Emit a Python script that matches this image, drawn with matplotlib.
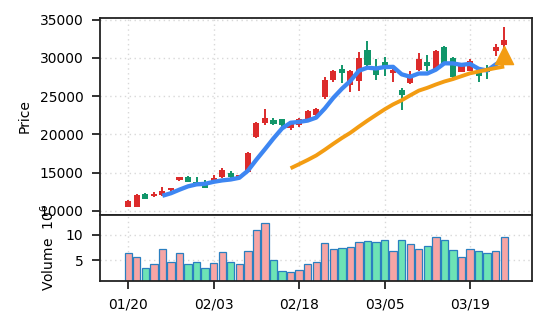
import numpy as np
import matplotlib
matplotlib.use('Agg')
import matplotlib.pyplot as plt

# daily bars, oldest first
opens = [10570, 10570, 12240, 11930, 12070, 12760, 14040, 14430, 13780, 13640,
         13910, 14380, 14960, 14380, 15120, 19700, 21450, 21840, 21970, 20880,
         21180, 21970, 22500, 24830, 27100, 28550, 26450, 27010, 31050, 28420,
         29430, 28030, 25790, 26710, 28420, 29470, 28420, 31410, 30000, 28200,
         28330, 28120, 28620, 30880, 31750]
highs = [11450, 12150, 12300, 12540, 13070, 13000, 14450, 14600, 14380, 14080,
         14650, 15570, 15170, 14750, 17650, 21600, 23290, 22100, 22050, 21400,
         22150, 23200, 23510, 27460, 28400, 29080, 28400, 30750, 32150, 29870,
         30170, 28500, 26010, 28250, 30660, 30400, 31050, 31550, 30100, 29000,
         29870, 28200, 29080, 31840, 34040]
lows = [10500, 10550, 11600, 11880, 11970, 12100, 13850, 13750, 13500, 12950,
        13850, 14300, 14350, 14300, 15050, 19570, 21220, 21220, 20960, 20570,
        20960, 21900, 22400, 24600, 26880, 26710, 25570, 25700, 28990, 27100,
        27670, 26880, 23250, 26580, 28290, 28330, 28300, 29100, 27300, 28100,
        28250, 26880, 27240, 30300, 31000]
closes = [11320, 12100, 11620, 12240, 12630, 12990, 14430, 13780, 13550, 12990,
          14300, 15350, 14380, 14650, 17590, 21540, 22200, 21410, 21180, 21320,
          22070, 23070, 23380, 27100, 28290, 27990, 28250, 30000, 29120, 27760,
          28910, 28380, 25130, 27540, 29870, 28910, 30880, 29300, 27460, 28910,
          29570, 27670, 28160, 31410, 32370]
volumes = [6330000, 5670000, 3470000, 4270000, 7270000, 4670000, 6330000, 4130000,
           4530000, 3470000, 4330000, 6530000, 4530000, 4130000, 6730000, 11070000,
           12470000, 5070000, 2750000, 2530000, 2930000, 4130000, 4530000, 8330000,
           7130000, 7330000, 7530000, 8530000, 8730000, 8530000, 8930000, 6730000,
           8930000, 8200000, 7130000, 7730000, 9530000, 8930000, 6930000, 5530000,
           7130000, 6730000, 6330000, 6730000, 9530000]

tick_pos = [0, 10, 20, 30, 40]
tick_labels = ['01/20', '02/03', '02/18', '03/05', '03/19']

# signal marker on the last bar
signal_idx = [44]
signal_price = [30400]

UP = '#dc2b2b'
DOWN = '#11966a'
UP_VOL = '#f6a5a5'
DOWN_VOL = '#6de3b5'
MA5_C = '#3d86f2'
MA20_C = '#f39c12'

o = np.array(opens, dtype=float)
h = np.array(highs, dtype=float)
l = np.array(lows, dtype=float)
c = np.array(closes, dtype=float)
v = np.array(volumes, dtype=float) / 1e6
x = np.arange(len(c))
up = c >= o


def moving_average(vals, n):
    out = np.full(len(vals), np.nan)
    for i in range(n - 1, len(vals)):
        out[i] = vals[i - n + 1:i + 1].mean()
    return out


ma5 = moving_average(c, 5)
ma20 = moving_average(c, 20)

fig = plt.figure(figsize=(5.46, 3.26), dpi=100)
ax = fig.add_axes([100/546, 1 - 215/326, 432/546, 197/326])
axv = fig.add_axes([100/546, 1 - 281/326, 432/546, 66/326], sharex=ax)

colors = np.where(up, UP, DOWN)
body_lo = np.minimum(o, c)
body_h = np.abs(c - o)
ax.vlines(x, l, h, colors=colors, linewidth=1.4, zorder=2)
ax.bar(x, body_h, bottom=body_lo, width=0.72, color=colors, zorder=3)

ax.plot(x, ma5, color=MA5_C, lw=3.1, zorder=4, solid_capstyle='butt')
ax.plot(x, ma20, color=MA20_C, lw=2.8, zorder=4, solid_capstyle='butt')
ax.scatter(signal_idx, signal_price, marker='^', s=170, color=MA20_C, zorder=5)

vcolors = np.where(up, UP_VOL, DOWN_VOL)
axv.bar(x, v, width=0.86, color=vcolors, edgecolor='#2a7fc0', linewidth=0.9)

ax.set_xlim(-3.3, 47.25)
ax.set_ylim(9470, 35220)
axv.set_ylim(0.8, 14.0)
ax.set_yticks([10000, 15000, 20000, 25000, 30000, 35000])
axv.set_yticks([5, 10])
axv.set_xticks(tick_pos)
axv.set_xticklabels(tick_labels)
ax.tick_params(axis='x', labelbottom=False)

ax.set_ylabel('Price', fontsize=10, labelpad=6)
axv.set_ylabel('Volume  $10^{6}$', fontsize=10, labelpad=6)

for a in (ax, axv):
    a.grid(True, color='#d8d8d8', linestyle=(0, (1, 2.5)), linewidth=1)
    a.set_axisbelow(True)
    for s in a.spines.values():
        s.set_linewidth(1.3)
        s.set_color('#222222')
    a.tick_params(direction='out', length=5.5, width=1.3, pad=6.5,
                  labelsize=10, color='#222222')

fig.savefig('out.png', dpi=100)
